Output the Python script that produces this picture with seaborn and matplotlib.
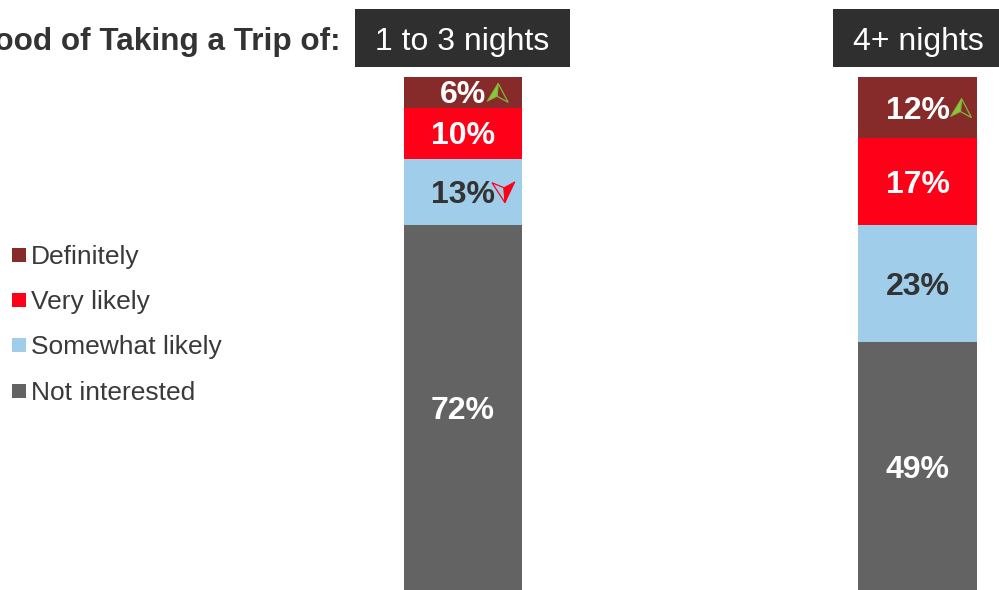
import numpy as np
import pandas as pd
import seaborn as sns
import matplotlib
matplotlib.use("Agg")
import matplotlib.pyplot as plt
from matplotlib.patches import Rectangle, Polygon
from matplotlib.transforms import offset_copy

# ---------------- data ----------------
trips = ["1 to 3 nights", "4+ nights"]
levels = ["Not interested", "Somewhat likely", "Very likely", "Definitely"]  # bottom -> top
not_interested = [72, 49]
somewhat_likely = [13, 23]
very_likely = [10, 17]
definitely = [6, 12]
legend_order = ["Definitely", "Very likely", "Somewhat likely", "Not interested"]
title_text = "Likelihood of Taking a Trip of:"
# significance arrows
arrow_trips = ["1 to 3 nights", "1 to 3 nights", "4+ nights"]
arrow_levels = ["Definitely", "Somewhat likely", "Definitely"]
arrow_dirs = ["up", "down", "up"]

colors = {
    "Definitely": "#862B2A",
    "Very likely": "#FF0019",
    "Somewhat likely": "#9FCDEA",
    "Not interested": "#636363",
}
label_colors = {
    "Definitely": "white",
    "Very likely": "white",
    "Somewhat likely": "#333333",
    "Not interested": "white",
}

values = {
    "Not interested": not_interested,
    "Somewhat likely": somewhat_likely,
    "Very likely": very_likely,
    "Definitely": definitely,
}
df = pd.DataFrame(values, index=trips)
cum = df[levels].cumsum(axis=1)
bottoms = cum - df[levels]

# ---------------- figure ----------------
W, H = 999, 590
sns.set_theme(style="white")
plt.rcParams["font.family"] = ["Liberation Sans", "DejaVu Sans"]
fig = plt.figure(figsize=(W / 100, H / 100), dpi=100)
ax = fig.add_axes([0, 0, 1, 1])

for lvl in reversed(levels):
    sns.barplot(x=trips, y=cum[lvl].values, order=trips, color=colors[lvl],
                saturation=1, width=0.26, errorbar=None, linewidth=0, ax=ax)

# layout mapping: bar centers at px 463 and 917.5; bar top at px 77, zero at px 592
c0, c1 = 463.0, 917.5
unit = c1 - c0
ax.set_xlim(-c0 / unit, (W - c0) / unit)
total = cum.iloc[:, -1].max()
ppu = (592 - 77) / total
ax.set_ylim((592 - H) / ppu, 592 / ppu)
ax.axis("off")

def fx(x):
    return x / W

def fy(y):
    return 1 - y / H

lab_tr = offset_copy(ax.transData, fig=fig, x=0, y=-3, units="dots")

# value labels
texts = {}
for i, trip in enumerate(trips):
    for lvl in levels:
        v = df.loc[trip, lvl]
        yc = bottoms.loc[trip, lvl] + v / 2
        t = ax.text(i, yc, f"{v}%", ha="center", va="center", fontsize=23,
                    fontweight="bold", color=label_colors[lvl], transform=lab_tr)
        texts[(trip, lvl)] = (t, i, yc)

# title & boxes
fig.text(fx(341), fy(42), title_text, ha="right", va="center", fontsize=22.7,
         fontweight="bold", color="#333333")
box_spans = [(355, 570), (833, 1004)]
for (x0, x1), trip in zip(box_spans, trips):
    fig.patches.append(Rectangle((fx(x0), fy(67)), (x1 - x0) / W, 58 / H,
                                 transform=fig.transFigure, facecolor="#2F2F2F",
                                 edgecolor="none"))
    fig.text(fx((x0 + x1) / 2), fy(42), trip, ha="center", va="center",
             fontsize=23, color="white")

# legend
leg_y = [255, 300, 345, 391]
for lvl, y in zip(legend_order, leg_y):
    fig.patches.append(Rectangle((fx(12), fy(y + 7)), 14 / W, 14 / H,
                                 transform=fig.transFigure, facecolor=colors[lvl],
                                 edgecolor="none"))
    fig.text(fx(31), fy(y + 2), lvl, ha="left", va="center", fontsize=19,
             color="#3A3A3A")

# arrows
fig.canvas.draw()
renderer = fig.canvas.get_renderer()

def poly(pts, **kw):
    p = Polygon([(fx(x), fy(y)) for x, y in pts], closed=True,
                transform=fig.transFigure, **kw)
    fig.patches.append(p)

for trip, lvl, d in zip(arrow_trips, arrow_levels, arrow_dirs):
    t, i, yv = texts[(trip, lvl)]
    bb = t.get_window_extent(renderer)
    yc = H - ax.transData.transform((i, yv))[1] + 1
    if d == "up":
        xl = bb.x1 + 1
        tip = (xl + 11, yc - 10)
        lb = (xl, yc + 8)
        notch = (xl + 10, yc + 3)
        rb = (xl + 21, yc + 9)
        poly([tip, lb, notch], facecolor="#8CC63F", edgecolor="#7DB83A", lw=0.6)
        poly([tip, notch, rb], facecolor="none", edgecolor="#7DB83A", lw=0.9)
    else:
        xl = bb.x1 - 3
        tl = (xl, yc - 10)
        tr = (xl + 23, yc - 11)
        tip = (xl + 13, yc + 10)
        notch = (xl + 12, yc - 5)
        poly([notch, tr, tip], facecolor="#FF0019", edgecolor="#FF0019", lw=0.6)
        poly([tl, notch, tip], facecolor="none", edgecolor="#FF0019", lw=0.9)

fig.savefig("out.png", dpi=100)
